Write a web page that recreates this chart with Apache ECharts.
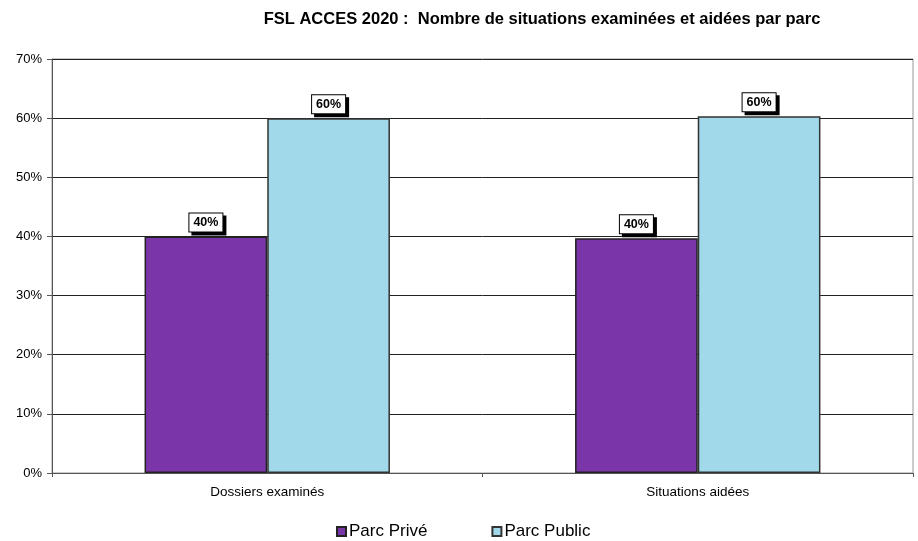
<!DOCTYPE html>
<html>
<head>
<meta charset="utf-8">
<script src="https://cdn.jsdelivr.net/npm/echarts@6/dist/echarts.min.js"></script>
<style>html,body{margin:0;padding:0;background:#fff;}#c{width:918px;height:541px;}</style>
</head>
<body>
<div id="c"></div>
<script>
const categories = ['Dossiers examinés', 'Situations aidées'];
const parcPrive = [40.0, 39.7];
const parcPublic = [60.0, 60.3];
const seriesNames = ['Parc Privé', 'Parc Public'];
const titleText = 'FSL ACCES 2020 :  Nombre de situations examinées et aidées par parc';

const chart = echarts.init(document.getElementById('c'));
const labelStyle = {
  show: true,
  position: 'top',
  distance: 5,
  formatter: p => Math.round(p.value) + '%',
  fontFamily: 'Liberation Sans',
  fontWeight: 'bold',
  fontSize: 12.5,
  color: '#000',
  backgroundColor: '#fff',
  borderColor: '#000',
  borderWidth: 1,
  padding: [3, 4, 2, 4],
  shadowColor: '#000',
  shadowOffsetX: 3,
  shadowOffsetY: 3,
  shadowBlur: 0
};
chart.setOption({
  animation: false,
  backgroundColor: '#fff',
  title: {
    text: titleText,
    left: 537,
    textAlign: 'center',
    top: 6,
    textStyle: { fontFamily: 'Liberation Sans', fontWeight: 'bold', fontSize: 16.5, color: '#000' }
  },
  legend: {
    data: seriesNames,
    top: 518,
    left: 331,
    itemGap: 64,
    itemWidth: 9,
    itemHeight: 9,
    icon: 'rect',
    textStyle: { fontFamily: 'Liberation Sans', fontSize: 17, color: '#000', padding: [0, 0, 0, -2] }
  },
  grid: { left: 52, right: 5, top: 59, bottom: 68, show: true, borderColor: '#999', borderWidth: 1 },
  xAxis: {
    type: 'category',
    data: categories,
    axisLine: { lineStyle: { color: '#555', width: 1 } },
    axisTick: { show: true, length: 4, inside: false, lineStyle: { color: '#555' } },
    axisLabel: { fontFamily: 'Liberation Sans', fontSize: 13.5, color: '#000', margin: 12 }
  },
  yAxis: {
    type: 'value',
    min: 0, max: 70, interval: 10,
    axisLine: { show: true, lineStyle: { color: '#555' } },
    axisTick: { show: true, length: 5, lineStyle: { color: '#555' } },
    axisLabel: { formatter: '{value}%', fontFamily: 'Liberation Sans', fontSize: 13, color: '#000', margin: 10 },
    splitLine: { lineStyle: { color: '#222', width: 1 } }
  },
  series: [
    {
      name: seriesNames[0], type: 'bar', data: parcPrive,
      barGap: '0%', barCategoryGap: '43%',
      itemStyle: { color: '#7A35A8', borderColor: '#222', borderWidth: 1.5 },
      label: labelStyle
    },
    {
      name: seriesNames[1], type: 'bar', data: parcPublic,
      itemStyle: { color: '#A1D9EA', borderColor: '#333', borderWidth: 1.5 },
      label: labelStyle
    }
  ]
});
</script>
</body>
</html>
